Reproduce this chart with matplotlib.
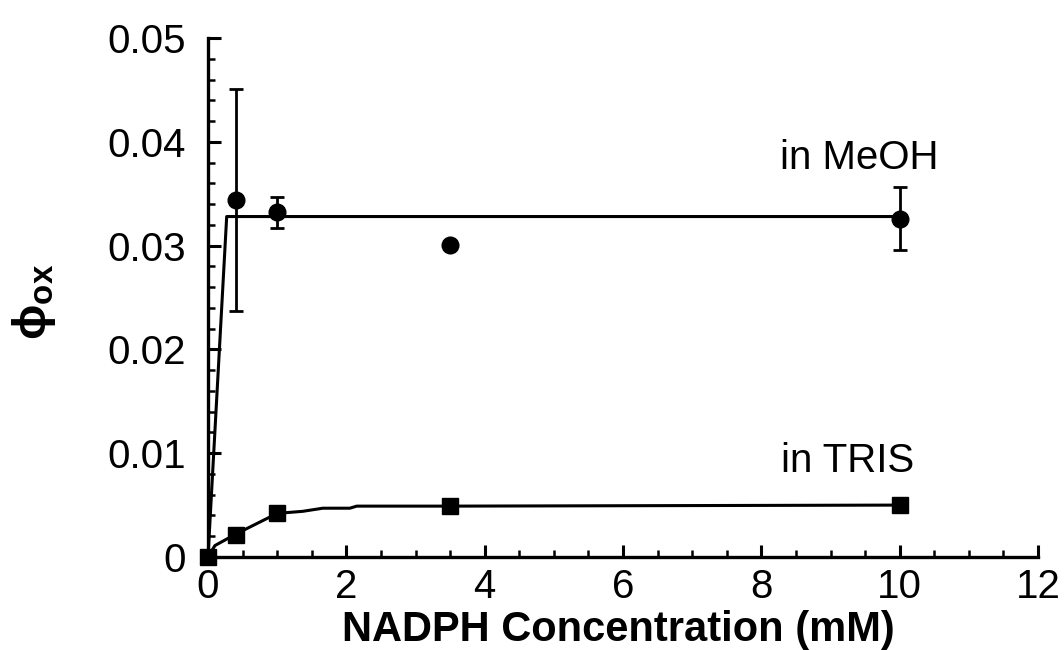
import numpy as np
import matplotlib
matplotlib.use("Agg")
import matplotlib.pyplot as plt
from matplotlib.ticker import MultipleLocator, FixedFormatter, FixedLocator

plt.rcParams['font.family'] = ['Liberation Sans', 'DejaVu Sans']
plt.rcParams['mathtext.fontset'] = 'custom'
plt.rcParams['mathtext.rm'] = 'Liberation Sans'
plt.rcParams['mathtext.bf'] = 'Liberation Sans:bold'

# measured quantum yields, methanol
meoh_x = [0.4, 1.0, 3.5, 10.0]
meoh_y = [0.0344, 0.0332, 0.0301, 0.0326]
meoh_err = [0.0107, 0.0015, 0.0, 0.0030]

# fitted curve, methanol
meoh_fit_x = [0.0, 0.27, 10.0]
meoh_fit_y = [0.0, 0.0328, 0.0328]

# measured quantum yields, TRIS buffer
tris_x = [0.0, 0.4, 1.0, 3.5, 10.0]
tris_y = [0.0, 0.0021, 0.0042, 0.0049, 0.0050]

# fitted curve, TRIS buffer
tris_fit_x = [0.0, 0.10, 0.40, 0.61, 1.0, 1.37, 1.66, 2.05, 2.15, 3.5, 10.0]
tris_fit_y = [0.0, 0.0011, 0.0022, 0.0029, 0.0042, 0.0044, 0.0047, 0.0047, 0.0049, 0.0049, 0.0050]

x_ticks = [0, 2, 4, 6, 8, 10, 12]
y_ticks = [0, 0.01, 0.02, 0.03, 0.04, 0.05]
y_labels = ['0', '0.01', '0.02', '0.03', '0.04', '0.05']

fig = plt.figure(figsize=(10.64, 6.5), dpi=100)
ax = fig.add_axes([0.1955, 0.1431, 0.7801, 0.7984])

ax.plot(meoh_fit_x, meoh_fit_y, color='black', lw=2.2)
ax.plot(tris_fit_x, tris_fit_y, color='black', lw=2.2)

ax.errorbar(meoh_x, meoh_y, yerr=meoh_err, fmt='o', color='black', ms=12,
            ecolor='black', elinewidth=2, capsize=5, capthick=2, clip_on=False)
ax.plot(tris_x, tris_y, 's', color='black', ms=11.5, clip_on=False)

ax.text(8.27, 0.0384, 'in MeOH', fontsize=29, ha='left', va='center')
ax.text(8.29, 0.00925, 'in TRIS', fontsize=29, ha='left', va='center')

ax.set_xlim(0, 12)
ax.set_ylim(0, 0.05)
ax.xaxis.set_major_locator(FixedLocator(x_ticks))
ax.xaxis.set_minor_locator(MultipleLocator(0.5))
ax.yaxis.set_major_locator(FixedLocator(y_ticks))
ax.yaxis.set_major_formatter(FixedFormatter(y_labels))
ax.yaxis.set_minor_locator(MultipleLocator(0.002))

ax.spines['top'].set_visible(False)
ax.spines['right'].set_visible(False)
for s in ['left', 'bottom']:
    ax.spines[s].set_linewidth(2.4)

ax.tick_params(axis='both', which='major', direction='in', length=9, width=2.2,
               labelsize=29)
ax.tick_params(axis='both', which='minor', direction='in', length=5, width=1.8)
ax.tick_params(axis='x', which='major', pad=8)
ax.tick_params(axis='y', which='major', pad=16)

fig.text(618 / 1064, 1 - 630 / 650, 'NADPH Concentration (mM)', fontsize=30,
         fontweight='bold', ha='center', va='center')
fig.text(34 / 1064, 1 - 302 / 650, r'$\mathbf{\phi_{ox}}$', fontsize=34,
         rotation=90, ha='center', va='center')

fig.savefig('out.png', dpi=100)
